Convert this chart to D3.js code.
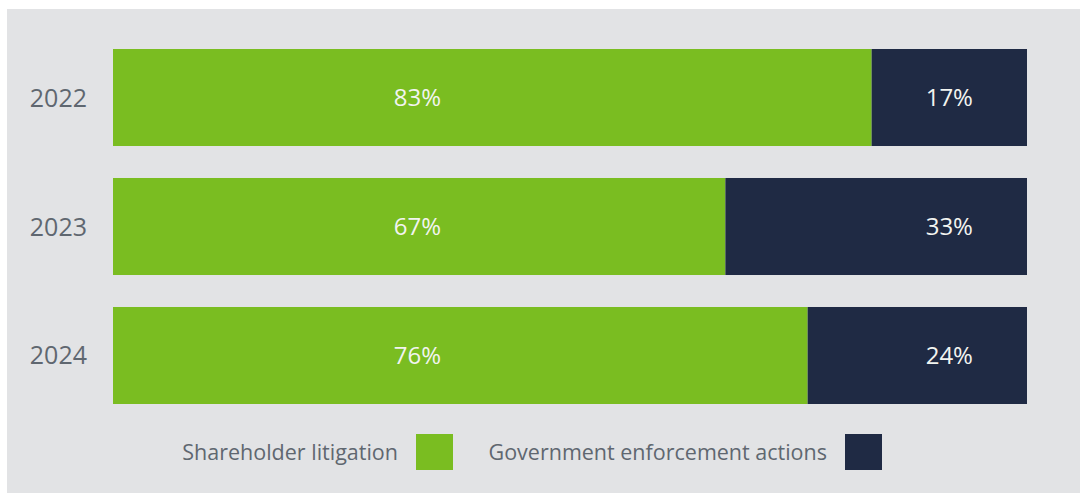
<!DOCTYPE html>
<html><head><meta charset="utf-8">
<script src="https://cdn.jsdelivr.net/npm/d3@7"></script>
<style>html,body{margin:0;padding:0;background:#fff;}svg{display:block;}</style>
</head><body>
<svg id="chart" width="1080" height="495"></svg>
<script>
const years = ["2022", "2023", "2024"];
const shareholder = [83, 67, 76];
const government = [17, 33, 24];
const seriesNames = ["Shareholder litigation", "Government enforcement actions"];
const seriesColors = ["#7abd21", "#1f2a44"];

const svg = d3.select("#chart");
const font = "'Open Sans', 'Noto Sans', sans-serif";
svg.append("rect").attr("x", 7).attr("y", 9).attr("width", 1073).attr("height", 484).attr("fill", "#e2e3e5");

const x = d3.scaleLinear().domain([0, 100]).range([113, 1027]);
const y = d3.scaleBand().domain(years).range([49, 404]).paddingInner(0.248);
// label columns (in data units of the x scale)
const labelCols = [33.3, 91.5];

const rows = years.map((yr, i) => ({ yr, vals: [shareholder[i], government[i]] }));
rows.forEach(r => {
  let acc = 0;
  r.vals.forEach((v, k) => {
    const x0 = x(acc), x1 = x(acc + v);
    svg.append("rect").attr("x", x0).attr("y", y(r.yr)).attr("width", x1 - x0).attr("height", y.bandwidth()).attr("fill", seriesColors[k]);
    svg.append("text").attr("x", x(labelCols[k])).attr("y", y(r.yr) + y.bandwidth() / 2).attr("dy", "0.36em")
      .attr("text-anchor", "middle").attr("fill", "#f2f4f0").attr("font-family", font).attr("font-size", 24).text(v + "%");
    acc += v;
  });
  svg.append("text").attr("x", 87).attr("y", y(r.yr) + y.bandwidth() / 2).attr("dy", "0.36em")
    .attr("text-anchor", "end").attr("fill", "#5f6770").attr("font-family", font).attr("font-size", 25).text(r.yr);
});

// legend
const legendItems = [
  { name: seriesNames[0], color: seriesColors[0], textEnd: 398, sw: 416 },
  { name: seriesNames[1], color: seriesColors[1], textEnd: 827, sw: 845 }
];
legendItems.forEach(l => {
  svg.append("text").attr("x", l.textEnd).attr("y", 452).attr("dy", "0.36em").attr("text-anchor", "end")
    .attr("fill", "#5f6770").attr("font-family", font).attr("font-size", 21.5).text(l.name);
  svg.append("rect").attr("x", l.sw).attr("y", 434).attr("width", 37).attr("height", 36).attr("fill", l.color);
});
</script>
</body></html>
